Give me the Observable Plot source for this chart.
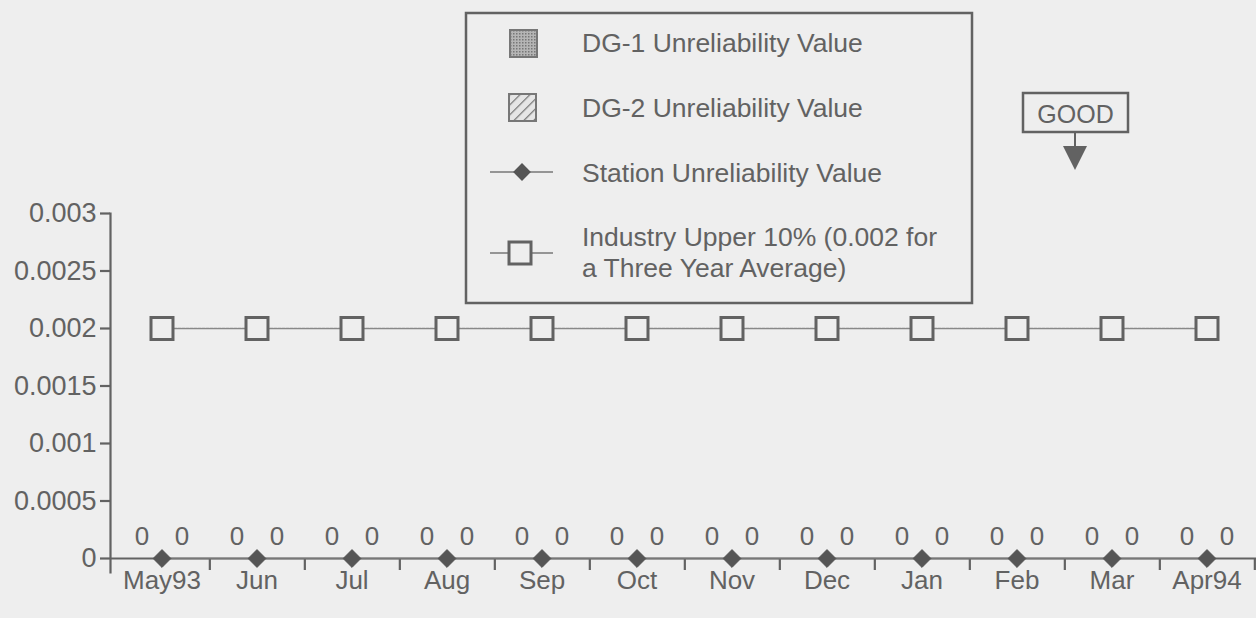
<!DOCTYPE html>
<html>
<head>
<meta charset="utf-8">
<script src="https://cdn.jsdelivr.net/npm/d3@7"></script>
<script src="https://cdn.jsdelivr.net/npm/@observablehq/plot@0.6"></script>
<style>
  html, body { margin: 0; padding: 0; background: #eeeeee; }
  #wrap { position: relative; width: 1256px; height: 618px; overflow: hidden; }
  #legend { position: absolute; left: 0; top: 0; pointer-events: none; }
</style>
</head>
<body>
<div id="wrap"></div>
<script>
// ---- data ----
const months = ["May93", "Jun", "Jul", "Aug", "Sep", "Oct", "Nov", "Dec", "Jan", "Feb", "Mar", "Apr94"];
const dg1Values = [0, 0, 0, 0, 0, 0, 0, 0, 0, 0, 0, 0];
const dg2Values = [0, 0, 0, 0, 0, 0, 0, 0, 0, 0, 0, 0];
const stationValues = [0, 0, 0, 0, 0, 0, 0, 0, 0, 0, 0, 0];
const industryValues = [0.002, 0.002, 0.002, 0.002, 0.002, 0.002, 0.002, 0.002, 0.002, 0.002, 0.002, 0.002];
const yTicks = [0, 0.0005, 0.001, 0.0015, 0.002, 0.0025, 0.003];
const legendLabels = ["DG-1 Unreliability Value", "DG-2 Unreliability Value", "Station Unreliability Value", ["Industry Upper 10% (0.002 for", "a Three Year Average)"]];
const goodLabel = "GOOD";

const rows = months.map((m, i) => ({
  month: m, dg1: dg1Values[i], dg2: dg2Values[i], station: stationValues[i], industry: industryValues[i]
}));

const W = 1256, H = 618;
const xRange = [110, 1258];
const step = (xRange[1] - xRange[0]) / months.length;
const ink = "#626262";
const font = "'Liberation Sans', Arial, Helvetica, sans-serif";

const chart = Plot.plot({
  width: W, height: H,
  marginLeft: 110, marginRight: 0, marginTop: 213, marginBottom: 60,
  style: { fontFamily: font, fontSize: "26px", color: ink, background: "transparent" },
  x: { type: "band", domain: months, range: xRange, padding: 0, label: null },
  y: { domain: [0, 0.003], label: null },
  marks: [
    Plot.frame({ anchor: "left", insetBottom: -14, stroke: ink, strokeWidth: 2.2 }),
    Plot.ruleY([0], { stroke: ink, strokeWidth: 2.2 }),
    Plot.axisY({ ticks: yTicks, tickSize: 10, tickPadding: 4, strokeWidth: 2.2, fontSize: 27,
                 tickFormat: d => String(+d.toFixed(4)), label: null }),
    Plot.axisX({ ticks: months, tickSize: 12, dx: step / 2, strokeWidth: 2.2, tickFormat: () => "", label: null }),
    Plot.axisX({ tickSize: 0, tickPadding: 12, fontSize: 26, label: null }),
    Plot.barY(rows, { x: "month", y: "dg1", insetRight: step / 2, fill: "#999" }),
    Plot.barY(rows, { x: "month", y: "dg2", insetLeft: step / 2, fill: "#bbb" }),
    Plot.text(rows, { x: "month", y: "dg1", text: d => String(d.dg1), dx: -20, dy: -22, fontSize: 26, fill: ink }),
    Plot.text(rows, { x: "month", y: "dg2", text: d => String(d.dg2), dx: 20, dy: -22, fontSize: 26, fill: ink }),
    Plot.line(rows, { x: "month", y: "industry", stroke: "#888", strokeWidth: 1.5, strokeDasharray: "3,1" }),
    Plot.dot(rows, { x: "month", y: "industry", symbol: "square", r: 12.4, stroke: ink, strokeWidth: 3, fill: "#eeeeee" }),
    Plot.line(rows, { x: "month", y: "station", stroke: "#777", strokeWidth: 1.5 }),
    Plot.dot(rows, { x: "month", y: "station", symbol: "diamond2", r: 8, fill: "#555", stroke: "#555", strokeWidth: 1 })
  ]
});
document.getElementById("wrap").appendChild(chart);

// ---- legend & GOOD annotation (overlay) ----
const svg = d3.select("#wrap").append("svg").attr("id", "legend")
  .attr("width", W).attr("height", H)
  .style("font-family", font);
const defs = svg.append("defs");
const p1 = defs.append("pattern").attr("id", "dots").attr("width", 3).attr("height", 3).attr("patternUnits", "userSpaceOnUse");
p1.append("rect").attr("width", 3).attr("height", 3).attr("fill", "#b5b5b5");
p1.append("rect").attr("width", 1.5).attr("height", 1.5).attr("fill", "#777");
const p2 = defs.append("pattern").attr("id", "hatch").attr("width", 7).attr("height", 7)
  .attr("patternUnits", "userSpaceOnUse").attr("patternTransform", "rotate(45)");
p2.append("rect").attr("width", 7).attr("height", 7).attr("fill", "#e6e6e6");
p2.append("line").attr("x1", 0).attr("y1", 0).attr("x2", 0).attr("y2", 7).attr("stroke", "#777").attr("stroke-width", 2.5);

const lg = svg.append("g");
lg.append("rect").attr("x", 466).attr("y", 13).attr("width", 506).attr("height", 290)
  .attr("fill", "#eeeeee").attr("stroke", ink).attr("stroke-width", 2.5);
lg.append("rect").attr("x", 510).attr("y", 30).attr("width", 27).attr("height", 27)
  .attr("fill", "url(#dots)").attr("stroke", "#777").attr("stroke-width", 2);
lg.append("rect").attr("x", 509).attr("y", 94).attr("width", 27).attr("height", 27)
  .attr("fill", "url(#hatch)").attr("stroke", "#777").attr("stroke-width", 2);
lg.append("line").attr("x1", 490).attr("x2", 553).attr("y1", 172).attr("y2", 172).attr("stroke", "#777").attr("stroke-width", 1.5);
lg.append("path").attr("d", d3.symbol(d3.symbolDiamond2, 201)()).attr("transform", "translate(522,172)").attr("fill", "#555");
lg.append("line").attr("x1", 490).attr("x2", 553).attr("y1", 253).attr("y2", 253).attr("stroke", "#777").attr("stroke-width", 1.5);
lg.append("rect").attr("x", 509).attr("y", 242).attr("width", 22).attr("height", 22)
  .attr("fill", "#eeeeee").attr("stroke", ink).attr("stroke-width", 3);
const tx = 582;
lg.append("text").attr("x", tx).attr("y", 52).text(legendLabels[0]);
lg.append("text").attr("x", tx).attr("y", 117).text(legendLabels[1]);
lg.append("text").attr("x", tx).attr("y", 182).text(legendLabels[2]);
lg.append("text").attr("x", tx).attr("y", 246).text(legendLabels[3][0]);
lg.append("text").attr("x", tx).attr("y", 277).text(legendLabels[3][1]);
lg.selectAll("text").attr("font-size", 26.5).attr("fill", ink);

const gg = svg.append("g");
gg.append("rect").attr("x", 1023).attr("y", 93).attr("width", 105).attr("height", 39)
  .attr("fill", "#eeeeee").attr("stroke", ink).attr("stroke-width", 2.5);
gg.append("text").attr("x", 1075.5).attr("y", 123).attr("text-anchor", "middle")
  .attr("font-size", 25).attr("fill", ink).text(goodLabel);
gg.append("line").attr("x1", 1075).attr("x2", 1075).attr("y1", 132).attr("y2", 150).attr("stroke", ink).attr("stroke-width", 2);
gg.append("path").attr("d", "M1063,146 L1087,146 L1075,170 Z").attr("fill", ink);
</script>
</body>
</html>
